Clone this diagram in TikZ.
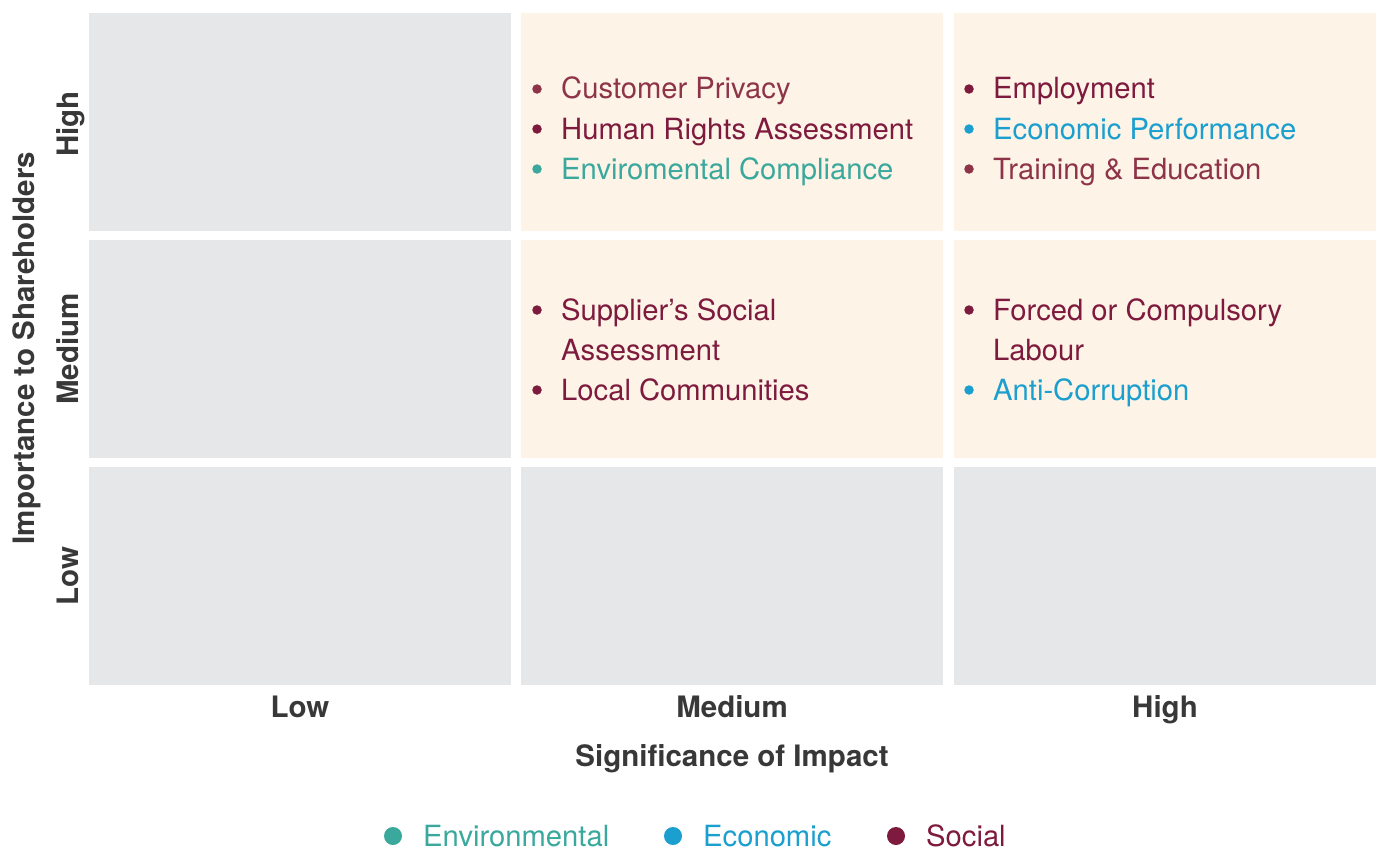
\documentclass[tikz,border=0pt]{standalone}
\usepackage{fontspec}
\setmainfont{TeX Gyre Heros}
\usetikzlibrary{positioning}

\definecolor{cellgrey}{HTML}{E6E7E9}
\definecolor{cellcream}{HTML}{FDF3E7}
\definecolor{labelgrey}{HTML}{383838}
\definecolor{enviro}{HTML}{3AA89C}
\definecolor{econ}{HTML}{1A9FCF}
\definecolor{social}{HTML}{7E1A3D}
\definecolor{socialB}{HTML}{8E3448}

\tikzset{
  cellbox/.style={minimum width=422pt, minimum height=218pt, inner sep=0pt},
  lowcell/.style={cellbox, fill=cellgrey},
  keycell/.style={cellbox, fill=cellcream},
  dot/.style={circle, inner sep=0pt, minimum size=9.5pt},
  keydot/.style={circle, inner sep=0pt, minimum size=18pt},
  item/.style={anchor=base west, inner sep=0pt, font=\fontsize{29.2}{40}\selectfont, align=left},
  axislabel/.style={inner sep=0pt, text height=20pt, text depth=0pt,
    font=\fontsize{29.5}{34}\selectfont\bfseries, text=labelgrey},
}

\begin{document}
\begin{tikzpicture}[x=1pt, y=-1pt]
\useasboundingbox (0,0) rectangle (1381,851);

% grid
\node[lowcell] (lowhigh) at ( 300,122) {};
\node[keycell] (medhigh) at ( 732,122) {};
\node[keycell] (highhigh) at (1165,122) {};
\node[lowcell] (lowmed)  at ( 300,349) {};
\node[keycell] (medmed)  at ( 732,349) {};
\node[keycell] (highmed) at (1165,349) {};
\node[lowcell] (lowlow)  at ( 300,576) {};
\node[lowcell] (medlow)  at ( 732,576) {};
\node[lowcell] (highlow) at (1165,576) {};

% medium impact, high importance
\node[dot, fill=socialB] (privacy) at (537, 89) {};
\node[item, text=socialB] (privacytxt) at (561, 99) {Customer Privacy};
\node[dot, fill=social] (rights) at (537,129) {};
\node[item, text=social] (rightstxt) at (561,139) {Human Rights Assessment};
\node[dot, fill=enviro] (compliance) at (537,169) {};
\node[item, text=enviro] (compliancetxt) at (561,179) {Enviromental Compliance};

% high impact, high importance
\node[dot, fill=social] (employment) at (969, 89) {};
\node[item, text=social] (employmenttxt) at (993, 99) {Employment};
\node[dot, fill=econ] (performance) at (969,129) {};
\node[item, text=econ] (performancetxt) at (993,139) {Economic Performance};
\node[dot, fill=socialB] (training) at (969,169) {};
\node[item, text=socialB] (trainingtxt) at (993,179) {Training \& Education};

% medium impact, medium importance
\node[dot, fill=social] (supplier) at (537,310) {};
\node[item, text=social] (suppliertxt) at (561,320) {Supplier’s Social};
\node[item, text=social] (suppliertxtb) at (561,360) {Assessment};
\node[dot, fill=social] (communities) at (537,390) {};
\node[item, text=social] (communitiestxt) at (561,400) {Local Communities};

% high impact, medium importance
\node[dot, fill=social] (labour) at (969,310) {};
\node[item, text=social] (labourtxt) at (993,320) {Forced or Compulsory};
\node[item, text=social] (labourtxtb) at (993,360) {Labour};
\node[dot, fill=econ] (corruption) at (969,390) {};
\node[item, text=econ] (corruptiontxt) at (993,400) {Anti-Corruption};

% axes
\node[axislabel] (xlow)  at ( 300,707) {Low};
\node[axislabel] (xmed)  at ( 732,707) {Medium};
\node[axislabel] (xhigh) at (1165,707) {High};
\node[axislabel] (xtitle) at (732,756) {Significance of Impact};

\node[axislabel, rotate=90] (yhigh) at (68,124) {High};
\node[axislabel, rotate=90] (ymed)  at (68,349) {Medium};
\node[axislabel, rotate=90] (ylow)  at (68,576) {Low};
\node[axislabel, rotate=90] (ytitle) at (24,348) {Importance to Shareholders};

% legend
\node[keydot, fill=enviro] (keyenv) at (393,836) {};
\node[item, text=enviro] (keyenvtxt) at (423,846) {Environmental};
\node[keydot, fill=econ] (keyecon) at (673,836) {};
\node[item, text=econ] (keyecontxt) at (703,846) {Economic};
\node[keydot, fill=social] (keysoc) at (896,836) {};
\node[item, text=social] (keysoctxt) at (926,846) {Social};

\end{tikzpicture}
\end{document}
